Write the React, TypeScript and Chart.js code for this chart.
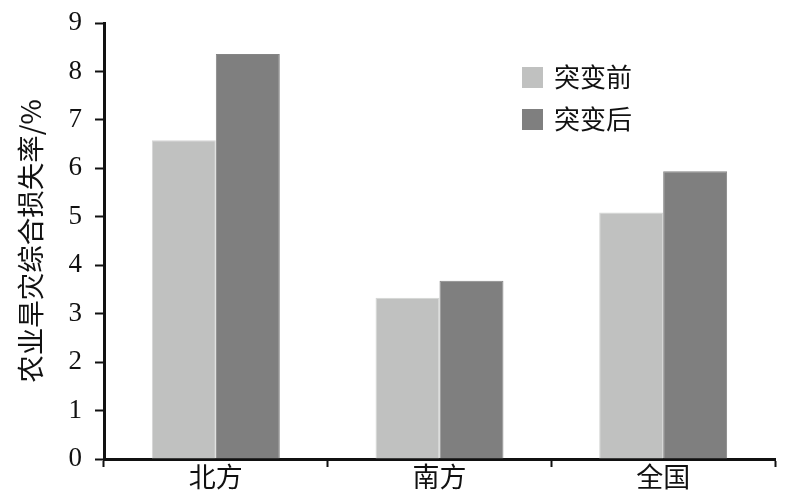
import React, { useEffect, useRef } from "react";
import { Chart, registerables } from "chart.js";

Chart.register(...registerables);

const categories = ["北方", "南方", "全国"];
const beforeValues = [6.58, 3.33, 5.09];
const afterValues = [8.36, 3.68, 5.94];
const seriesNames = ["突变前", "突变后"];
const seriesColors = ["#c0c1c0", "#7f7f7f"];
const yTitle = "农业旱灾综合损失率/%";

const SERIF = "'Liberation Serif', 'Noto Sans CJK SC', serif";
const CJK = "'Noto Sans CJK SC', 'Liberation Serif', serif";

const legendPlugin = {
  id: "customLegend",
  afterDraw(chart: any) {
    const ctx = chart.ctx;
    ctx.save();
    const x0 = 522;
    const ys = [67, 109];
    chart.data.datasets.forEach((ds: any, i: number) => {
      ctx.fillStyle = ds.backgroundColor;
      ctx.fillRect(x0, ys[i], 21, 21);
      ctx.fillStyle = "#111";
      ctx.font = "26px " + CJK;
      ctx.textBaseline = "middle";
      ctx.textAlign = "left";
      ctx.fillText(ds.label, 554, ys[i] + 10);
    });
    ctx.restore();
  },
};

export default function App() {
  const ref = useRef<HTMLCanvasElement | null>(null);
  useEffect(() => {
    if (!ref.current) return;
    const chart = new Chart(ref.current, {
      type: "bar",
      data: {
        labels: categories,
        datasets: [
          { label: seriesNames[0], data: beforeValues, backgroundColor: seriesColors[0], borderColor: "#d4d5d4", borderWidth: 1 },
          { label: seriesNames[1], data: afterValues, backgroundColor: seriesColors[1], borderColor: "#858585", borderWidth: 1 },
        ],
      },
      options: {
        animation: false,
        responsive: false,
        maintainAspectRatio: false,
        layout: { padding: { top: 23, right: 25, left: 0, bottom: 0 } },
        datasets: { bar: { categoryPercentage: 0.572, barPercentage: 1 } },
        plugins: { legend: { display: false }, tooltip: { enabled: false } },
        scales: {
          x: {
            grid: { display: true, drawOnChartArea: false, drawTicks: true, tickLength: 8, tickColor: "#111", tickWidth: 2, offset: true },
            border: { color: "#111", width: 3 },
            ticks: { color: "#111", font: { family: CJK, size: 27 }, padding: -6 },
            afterFit(scale: any) { scale.height = 42; scale.paddingLeft = 0; scale.paddingRight = 0; },
          },
          y: {
            min: 0,
            max: 9,
            grid: { display: true, drawOnChartArea: false, drawTicks: true, tickLength: 9, tickColor: "#111", tickWidth: 2 },
            border: { color: "#111", width: 3 },
            ticks: { stepSize: 1, color: "#111", font: { family: SERIF, size: 27 }, padding: 13 },
            title: { display: true, text: yTitle, color: "#111", font: { family: CJK, size: 27.5 }, padding: { top: 14, bottom: 0 } },
            afterFit(scale: any) { scale.width = 104; scale.paddingTop = 0; scale.paddingBottom = 0; },
          },
        },
      },
      plugins: [legendPlugin],
    });
    return () => chart.destroy();
  }, []);
  return (
    <div style={{ position: "fixed", left: 0, top: 0, width: 800, height: 501, background: "#fff" }}>
      <canvas ref={ref} width={800} height={501} style={{ display: "block" }} />
    </div>
  );
}
